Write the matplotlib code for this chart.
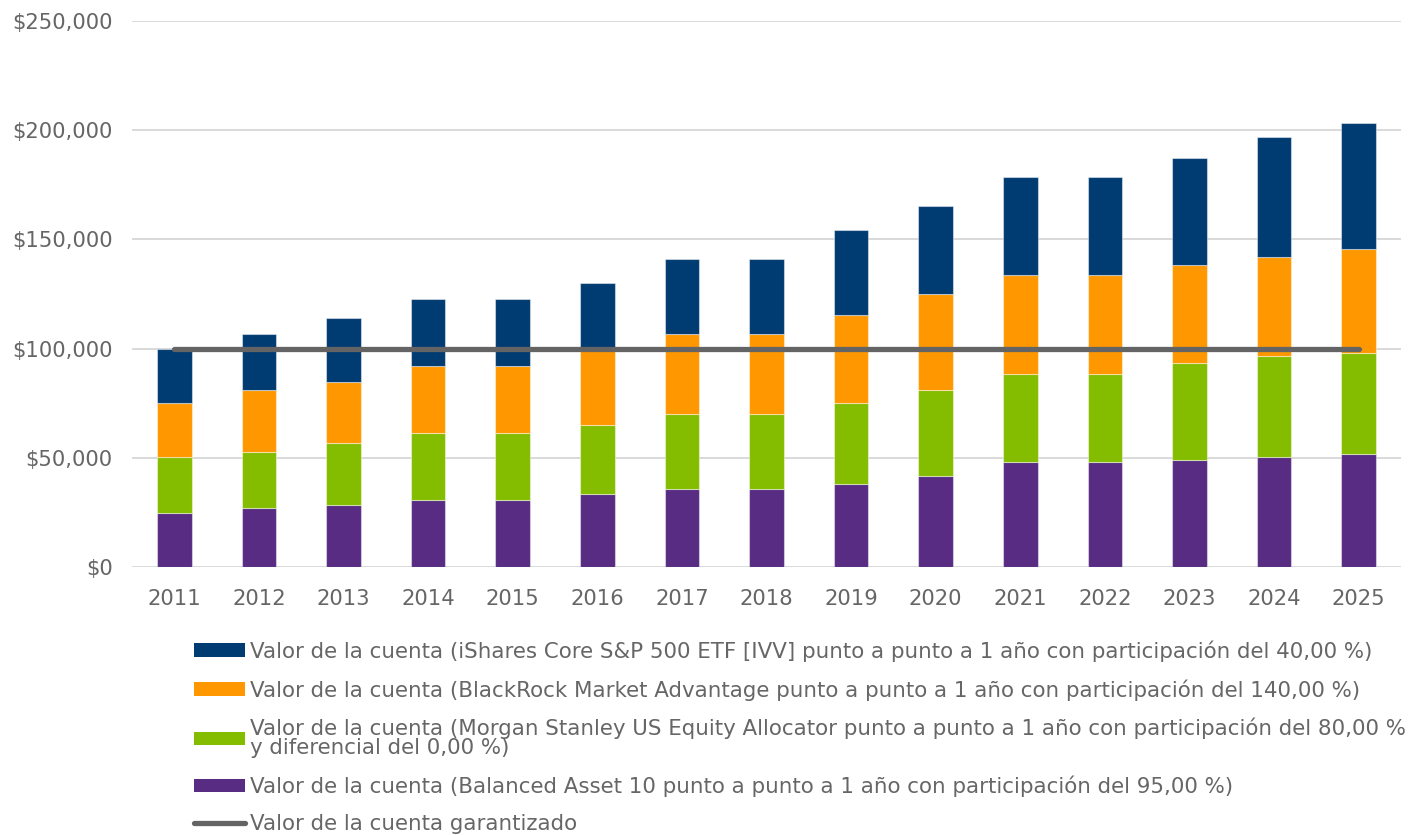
import matplotlib
matplotlib.use("Agg")
import matplotlib.pyplot as plt
from matplotlib.patches import Patch
from matplotlib.lines import Line2D
from matplotlib.ticker import FuncFormatter
import numpy as np

years = ["2011", "2012", "2013", "2014", "2015", "2016", "2017", "2018",
         "2019", "2020", "2021", "2022", "2023", "2024", "2025"]

# Segment values (stacked from bottom to top)
balanced = [24900, 27150, 28400, 30800, 30800, 33400, 35700, 35700,
            38150, 41800, 48100, 48100, 49150, 50500, 51750]
morgan = [25600, 25650, 28250, 30700, 30700, 31750, 34350, 34350,
          36800, 39250, 40150, 40150, 44100, 46250, 46400]
blackrock = [24450, 28250, 28050, 30550, 30550, 35150, 36650, 36650,
             40300, 43950, 45300, 45300, 45200, 45350, 47600]
ishares = [24650, 25650, 29200, 30550, 30550, 29600, 34300, 34300,
           39050, 40300, 45150, 45150, 48850, 54950, 57400]
guaranteed = [100000] * 15

labels = [
    "Valor de la cuenta (iShares Core S&P 500 ETF [IVV] punto a punto a 1 año con participación del 40,00 %)",
    "Valor de la cuenta (BlackRock Market Advantage punto a punto a 1 año con participación del 140,00 %)",
    "Valor de la cuenta (Morgan Stanley US Equity Allocator punto a punto a 1 año con participación del 80,00 %\ny diferencial del 0,00 %)",
    "Valor de la cuenta (Balanced Asset 10 punto a punto a 1 año con participación del 95,00 %)",
    "Valor de la cuenta garantizado",
]

c_navy = "#003B71"
c_orange = "#FF9800"
c_green = "#84BD00"
c_purple = "#582C83"
c_gray = "#646464"
txt = "#666666"

plt.rcParams["font.family"] = ["DejaVu Sans"]

fig = plt.figure(figsize=(14.13, 8.35), dpi=100)
ax = fig.add_axes([0.0934, 0.3210, 0.8981, 0.6539])

x = np.arange(len(years))
w = 0.41
edge = (1, 1, 1, 0.45)
b1 = np.array(balanced)
b2 = b1 + np.array(morgan)
b3 = b2 + np.array(blackrock)
ax.bar(x, balanced, w, color=c_purple, edgecolor=edge, linewidth=0.8, zorder=2)
ax.bar(x, morgan, w, bottom=b1, color=c_green, edgecolor=edge, linewidth=0.8, zorder=2)
ax.bar(x, blackrock, w, bottom=b2, color=c_orange, edgecolor=edge, linewidth=0.8, zorder=2)
ax.bar(x, ishares, w, bottom=b3, color=c_navy, edgecolor=edge, linewidth=0.8, zorder=2)
ax.plot(x, guaranteed, color=c_gray, lw=3.8, solid_capstyle="round", zorder=3)

ax.set_xlim(-0.5, len(years) - 0.5)
ax.set_ylim(0, 250000)
ax.set_yticks(np.arange(0, 250001, 50000))
ax.yaxis.set_major_formatter(FuncFormatter(lambda v, p: "${:,.0f}".format(v)))
ax.set_xticks(x)
ax.set_xticklabels(years)
ax.grid(axis="y", color="#d9d9d9", lw=1.4, zorder=0)
ax.set_axisbelow(True)
for s in ax.spines.values():
    s.set_visible(False)
ax.tick_params(axis="both", length=0, labelsize=15.2, labelcolor=txt)
ax.tick_params(axis="y", pad=14)
ax.tick_params(axis="x", pad=16)

handles = [
    Patch(facecolor=c_navy, edgecolor="none"),
    Patch(facecolor=c_orange, edgecolor="none"),
    Patch(facecolor=c_green, edgecolor="none"),
    Patch(facecolor=c_purple, edgecolor="none"),
    Line2D([0], [0], color=c_gray, lw=3.8, solid_capstyle="round"),
]
leg = fig.legend(handles, labels, loc="upper left",
                 bbox_to_anchor=(0.1373, 0.233), frameon=False,
                 fontsize=15.4, labelcolor=txt, handlelength=2.38,
                 handleheight=0.62, handletextpad=0.23, labelspacing=0.8,
                 borderaxespad=0, borderpad=0)
leg.get_texts()[2].set_linespacing(0.95)

fig.savefig("out.png", dpi=100)
